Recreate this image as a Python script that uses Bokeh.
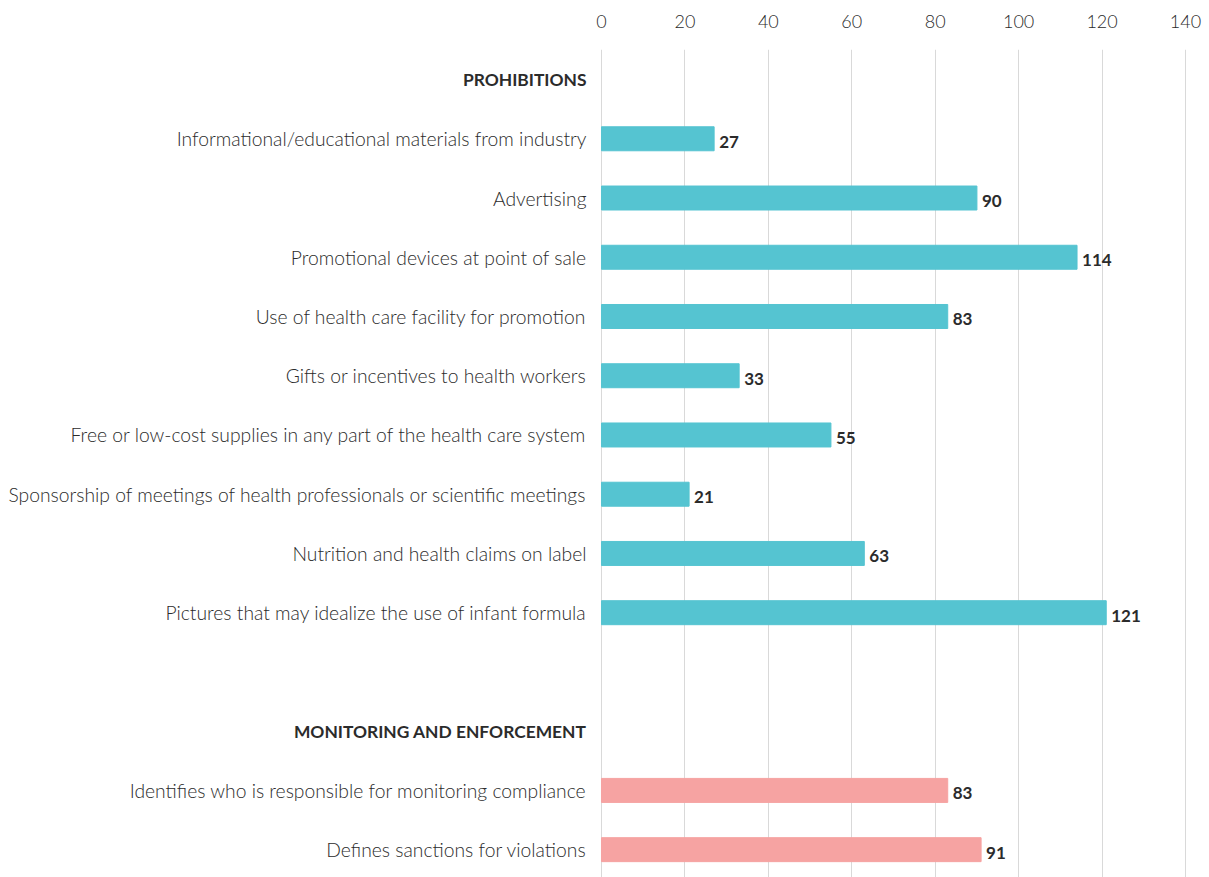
from bokeh.plotting import figure
from bokeh.models import Range1d, FixedTicker, ColumnDataSource
from bokeh.core.properties import value
from bokeh.embed import file_html
from bokeh.resources import INLINE

# ---- data ----
heading_labels = ["PROHIBITIONS", "MONITORING AND ENFORCEMENT"]
prohibition_labels = [
    "Informational/educational materials from industry",
    "Advertising",
    "Promotional devices at point of sale",
    "Use of health care facility for promotion",
    "Gifts or incentives to health workers",
    "Free or low-cost supplies in any part of the health care system",
    "Sponsorship of meetings of health professionals or scientific meetings",
    "Nutrition and health claims on label",
    "Pictures that may idealize the use of infant formula",
]
prohibition_values = [27, 90, 114, 83, 33, 55, 21, 63, 121]
monitoring_labels = [
    "Identifies who is responsible for monitoring compliance",
    "Defines sanctions for violations",
]
monitoring_values = [83, 91]
x_ticks = [0, 20, 40, 60, 80, 100, 120, 140]

# ---- slot layout (one slot per row, blank row between sections) ----
head_slots = [0, len(prohibition_labels) + 2]
prohib_slots = list(range(1, len(prohibition_labels) + 1))
monit_slots = list(range(head_slots[1] + 1, head_slots[1] + 1 + len(monitoring_labels)))

LIGHT = "Lato Light"
BOLD = "Lato"
TEXT = "#2b2b2b"

p = figure(
    width=1202, height=877,
    x_range=Range1d(-144.075, 143.836),
    y_range=Range1d(13.47, -0.507),
    x_axis_location="above", y_axis_location=None,
    min_border_left=0, min_border_right=1, min_border_top=49, min_border_bottom=0,
    outline_line_color=None, toolbar_location=None, output_backend="svg",
)

ax = p.xaxis[0]
ax.ticker = FixedTicker(ticks=x_ticks)
ax.axis_line_color = None
ax.major_tick_line_color = None
ax.minor_tick_line_color = None
ax.major_label_standoff = 16
ax.major_label_text_font = LIGHT
ax.major_label_text_font_size = "18px"
ax.major_label_text_color = TEXT

p.xgrid.ticker = FixedTicker(ticks=x_ticks)
p.xgrid.grid_line_color = "#d9d9d9"
p.xgrid.grid_line_width = 1
p.ygrid.visible = False

teal = "#55C4D1"
pink = "#F6A3A2"

src_p = ColumnDataSource(dict(y=prohib_slots, v=prohibition_values, lab=prohibition_labels,
                              vt=[str(v) for v in prohibition_values]))
src_m = ColumnDataSource(dict(y=monit_slots, v=monitoring_values, lab=monitoring_labels,
                              vt=[str(v) for v in monitoring_values]))
src_h = ColumnDataSource(dict(y=head_slots, lab=heading_labels, x=[0, 0]))

p.hbar(y="y", left=0, right="v", height=0.405, color=teal, source=src_p)
p.hbar(y="y", left=0, right="v", height=0.405, color=pink, source=src_m)

for src in (src_p, src_m):
    # value labels
    p.text(x="v", y="y", text="vt", x_offset=5, y_offset=3,
           text_font=value(BOLD), text_font_style="bold", text_font_size="17px",
           text_color=TEXT, text_align="left", text_baseline="middle", source=src)
    # category labels
    src.data["x0"] = [0] * len(src.data["y"])
    p.text(x="x0", y="y", text="lab", x_offset=-15, y_offset=0,
           text_font=value(LIGHT), text_font_size="19.3px",
           text_color=TEXT, text_align="right", text_baseline="middle", source=src)

p.text(x="x", y="y", text="lab", x_offset=-15, y_offset=0,
       text_font=value(BOLD), text_font_style="bold", text_font_size="17.4px",
       text_color=TEXT, text_align="right", text_baseline="middle", source=src_h)

open("out.html", "w").write(file_html(p, INLINE))
